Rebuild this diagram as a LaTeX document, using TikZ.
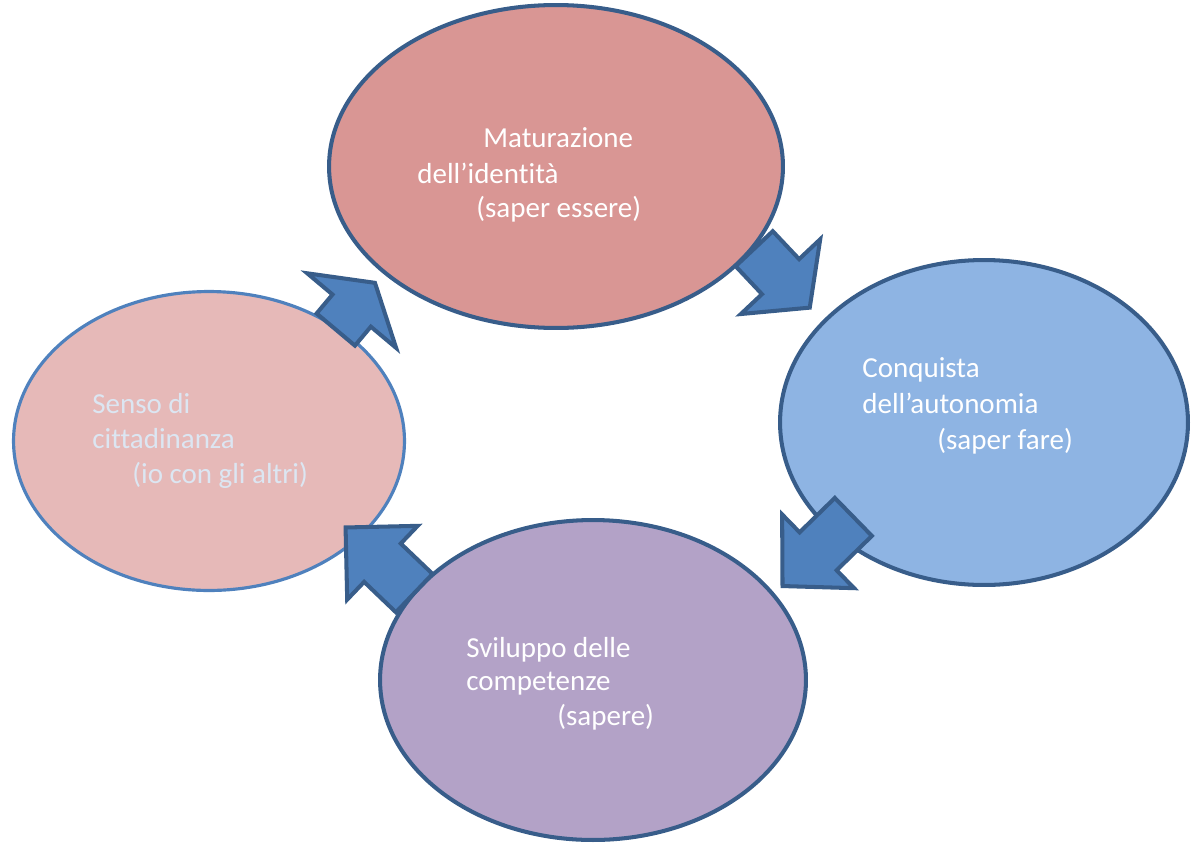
\documentclass[tikz,border=0pt]{standalone}
\usepackage{fontspec}
\setmainfont{Carlito}[Ligatures=NoCommon]
\usetikzlibrary{shapes.geometric,shapes.arrows}
\definecolor{bordo}{RGB}{56,93,138}
\definecolor{bordochiaro}{RGB}{79,129,189}
\definecolor{freccia}{RGB}{79,129,189}
\definecolor{rosa}{RGB}{217,150,148}
\definecolor{rosachiaro}{RGB}{230,185,184}
\definecolor{azzurro}{RGB}{142,180,227}
\definecolor{lilla}{RGB}{179,162,199}
\definecolor{testochiaro}{RGB}{220,230,242}
\begin{document}
\begin{tikzpicture}[x=0.02cm,y=-0.02cm,
  tappa/.style={ellipse,draw=bordo,line width=2.3pt,inner sep=0pt},
  voce/.style={anchor=base west,inner sep=0pt,text=white,
    font=\fontsize{16.5}{20}\selectfont},
  blocco/.style={single arrow,draw=bordo,fill=freccia,line width=2.3pt,
    inner xsep=0pt,anchor=tip}]
  \useasboundingbox (0,0) rectangle (1192,845);
  \node[tappa,fill=rosachiaro,draw=bordochiaro,line width=1.8pt,
    minimum width=7.82cm,minimum height=5.98cm] (senso) at (209,441) {};
  \node[tappa,fill=rosa,minimum width=9.08cm,minimum height=6.46cm]
    (identita) at (556,166.5) {};
  \node[tappa,fill=azzurro,minimum width=8.16cm,minimum height=6.5cm]
    (autonomia) at (984,422.5) {};
  \node[tappa,fill=lilla,minimum width=8.52cm,minimum height=6.4cm]
    (competenze) at (593,680) {};
  \node[voce] (id1) at (483,147) {Maturazione};
  \node[voce] (id2) at (417,183) {dell’identità};
  \node[voce] (id3) at (476,217) {(saper essere)};
  \node[voce] (au1) at (862,377) {Conquista};
  \node[voce] (au2) at (862,413) {dell’autonomia};
  \node[voce] (au3) at (937,449) {(saper fare)};
  \node[voce] (co1) at (466,657) {Sviluppo delle};
  \node[voce] (co2) at (466,690) {competenze};
  \node[voce] (co3) at (557,725) {(sapere)};
  \node[voce,text=testochiaro] (se1) at (92,413) {Senso di};
  \node[voce,text=testochiaro] (se2) at (92,448) {cittadinanza};
  \node[voce,text=testochiaro] (se3) at (132,483) {(io con gli altri)};
  \node[blocco,rotate=50,minimum height=1.22cm,inner ysep=0.46cm,
    single arrow head extend=0.66cm,single arrow tip angle=116]
    (su) at (376.5,281) {};
  \node[blocco,rotate=-46.7,minimum height=1.62cm,inner ysep=0.47cm,
    single arrow head extend=0.58cm,single arrow tip angle=104]
    (destra) at (811.5,309.5) {};
  \node[blocco,rotate=-135.7,minimum height=1.98cm,inner ysep=0.49cm,
    single arrow head extend=0.5cm,single arrow tip angle=92]
    (giu) at (780.5,588) {};
  \node[blocco,rotate=136.3,minimum height=1.9cm,inner ysep=0.49cm,
    single arrow head extend=0.49cm,single arrow tip angle=90]
    (sinistra) at (343.5,525.5) {};
\end{tikzpicture}
\end{document}
